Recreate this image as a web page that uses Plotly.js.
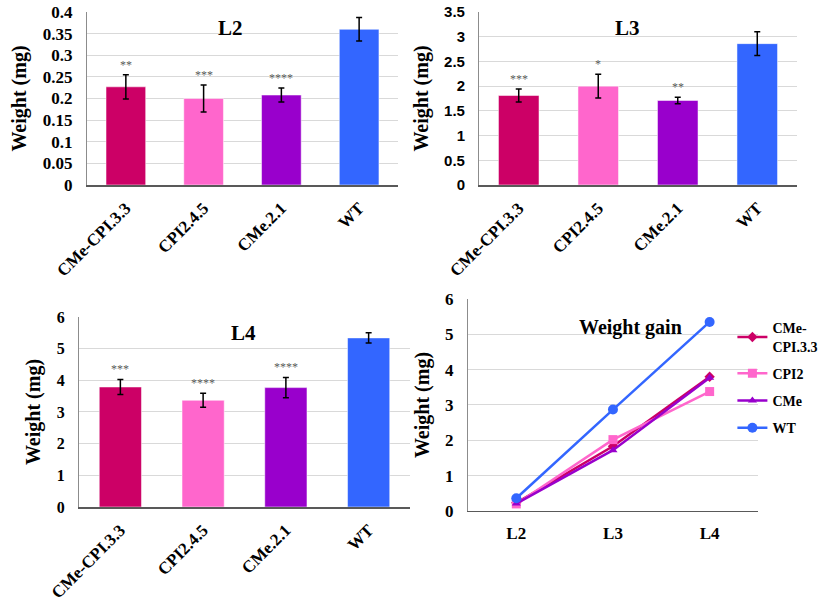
<!DOCTYPE html>
<html><head><meta charset="utf-8">
<script src="https://cdn.plot.ly/plotly-3.0.1.min.js"></script>
<style>html,body{margin:0;padding:0;background:#fff}#chart{width:822px;height:603px}</style>
</head><body><div id="chart"></div>
<script>
const groups = ['CMe-CPI.3.3','CPI2.4.5','CMe.2.1','WT'];
const barColors = ['#CC0066','#FF66CC','#9900CC','#3366FF'];
const l2Mean = [0.227,0.200,0.208,0.360];
const l2Err  = [0.028,0.031,0.016,0.027];
const l2Sig  = ['**','***','****',''];
const l3Mean = [1.81,2.00,1.71,2.86];
const l3Err  = [0.13,0.24,0.065,0.24];
const l3Sig  = ['***','*','**',''];
const l4Mean = [3.79,3.37,3.77,5.34];
const l4Err  = [0.24,0.22,0.32,0.16];
const l4Sig  = ['***','****','****',''];
const stages = ['L2','L3','L4'];
const gainCMeCPI = [0.23,1.83,3.80];
const gainCPI2   = [0.20,2.02,3.38];
const gainCMe    = [0.21,1.72,3.77];
const gainWT     = [0.36,2.87,5.35];
const lineNames  = ['CMe-<br>CPI.3.3','CPI2','CMe','WT'];
const lineSymbols = ['diamond','square','triangle-up','circle'];

const serif = 'Liberation Serif, Times New Roman, serif';
const sans = 'Liberation Sans, Arial, sans-serif';

function barTrace(mean, err, xa, ya){
  return {type:'bar', x:groups, y:mean, xaxis:xa, yaxis:ya, showlegend:false,
    marker:{color:barColors, line:{color:'rgba(255,255,255,0.5)', width:1}},
    error_y:{type:'data', array:err, visible:true, color:'#000', thickness:1.5, width:3}};
}
const data = [
  barTrace(l2Mean,l2Err,'x','y'),
  barTrace(l3Mean,l3Err,'x2','y2'),
  barTrace(l4Mean,l4Err,'x3','y3')
];
const gains = [gainCMeCPI,gainCPI2,gainCMe,gainWT];
gains.forEach((g,i)=>{
  data.push({type:'scatter', mode:'lines+markers', x:stages, y:g, xaxis:'x4', yaxis:'y4',
    name:lineNames[i], legendgroup:'g'+i, line:{color:barColors[i], width:2.5},
    marker:{symbol:lineSymbols[i], size: i===3?10:(i===1?9:8), color:barColors[i]}});
});

function sigAnn(sig, mean, err, xa, ya){
  return sig.map((s,i)=>({text:s, x:groups[i], y:mean[i]+err[i], xref:xa, yref:ya,
    showarrow:false, xanchor:'center', yanchor:'bottom', yshift:1, font:{family:serif, size:12, color:'#595959'}}));
}

function xcat(domain){
  return {domain:domain, type:'category', showline:true, linecolor:'#595959', linewidth:1.5,
    tickangle:-45, ticklabelstandoff:5, tickfont:{family:serif, size:17, color:'#000', weight:'bold'}, ticks:'', showgrid:false, fixedrange:true};
}
function yval(domain, range, dtick, tf){
  return {domain:domain, range:range, dtick:dtick, showline:true, linecolor:'#8c8c8c', linewidth:1,
    gridcolor:'#d9d9d9', gridwidth:1, zeroline:false, ticks:'', tickfont:tf, ticklabelstandoff:10,
    title:{text:'Weight (mg)', font:{family:serif, size:20, color:'#000', weight:'bold'}, standoff:10}};
}
const tfSerif = {family:serif, size:17, color:'#000', weight:'bold'};
const tfSans = {family:sans, size:15, color:'#000', weight:'bold'};

function titleAnn(text, px, py, size){
  return {text:text, xref:'paper', yref:'paper', x:px/822, y:1-py/603, xanchor:'center', yanchor:'middle',
    showarrow:false, font:{family:serif,size:size,color:'#000',weight:'bold'}};
}

const layout = {
  width:822, height:603, margin:{l:0,r:0,t:0,b:0,autoexpand:false}, paper_bgcolor:'#fff', plot_bgcolor:'#fff',
  bargap:0.49,
  xaxis: xcat([0.1058,0.4842]),
  yaxis: yval([0.6932,0.9801],[0,0.4],0.05,tfSerif),
  xaxis2: Object.assign(xcat([0.5827,0.9696]),{anchor:'y2'}),
  yaxis2: Object.assign(yval([0.6932,0.9801],[0,3.5],0.5,tfSans),{anchor:'x2'}),
  xaxis3: Object.assign(xcat([0.0961,0.4988]),{anchor:'y3'}),
  yaxis3: Object.assign(yval([0.1592,0.4743],[0,6],1,{family:serif,size:16,color:'#000',weight:'bold'}),{anchor:'x3'}),
  xaxis4: {domain:[0.5693,0.9221], anchor:'y4', type:'category', range:[-0.5,2.5], showline:true, linecolor:'#595959', linewidth:1.5,
    ticks:'', showgrid:false, ticklabelstandoff:6, tickfont:{family:serif,size:17,color:'#000',weight:'bold'}},
  yaxis4: Object.assign(yval([0.1526,0.5042],[0,6],1,tfSerif),{anchor:'x4'}),
  legend:{x:0.891, y:0.482, xanchor:'left', yanchor:'top', bgcolor:'rgba(0,0,0,0)',
    font:{family:serif, size:14, color:'#000', weight:'bold'}, tracegroupgap:6, itemwidth:30},
  annotations: [].concat(
    sigAnn(l2Sig,l2Mean,l2Err,'x','y'),
    sigAnn(l3Sig,l3Mean,l3Err,'x2','y2'),
    sigAnn(l4Sig,l4Mean,l4Err,'x3','y3'),
    [
      titleAnn('L2',230,28,21),
      titleAnn('L3',627,28,21),
      titleAnn('L4',243,333,21),
      titleAnn('Weight gain',630,327,20)
    ])
};
Plotly.newPlot('chart', data, layout, {staticPlot:true, displayModeBar:false});
</script></body></html>
